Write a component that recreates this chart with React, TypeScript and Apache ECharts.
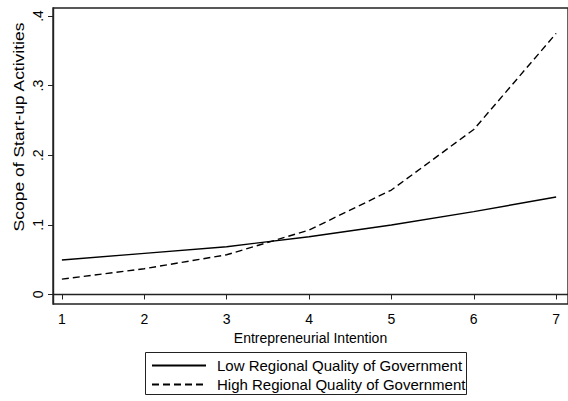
import React, { useEffect, useRef } from "react";
import * as echarts from "echarts";

const xValues = [1, 2, 3, 4, 5, 6, 7];
const lowQoG = [0.0495, 0.059, 0.0686, 0.083, 0.0997, 0.119, 0.140];
const highQoG = [0.022, 0.037, 0.057, 0.0925, 0.150, 0.237, 0.375];
const xTicks = [1, 2, 3, 4, 5, 6, 7];
const yTicks = [0, 0.1, 0.2, 0.3, 0.4];
const seriesNames = ["Low Regional Quality of Government", "High Regional Quality of Government"];
const xTitle = "Entrepreneurial Intention";
const yTitle = "Scope of Start-up Activities";

export default function App() {
  const ref = useRef<HTMLDivElement>(null);
  useEffect(() => {
    if (!ref.current) return;
    const chart = echarts.init(ref.current, null, { renderer: "svg" });
    const font = "Liberation Sans, Arial, sans-serif";
    const axisColor = "#222";
    chart.setOption({
      animation: false,
      backgroundColor: "#fff",
      textStyle: { fontFamily: font },
      grid: {
        left: 53,
        top: 8,
        right: -4,
        bottom: 97,
        show: true,
        borderColor: axisColor,
        borderWidth: 1.4,
      },
      xAxis: {
        type: "value",
        min: 0.892,
        max: 7.144,
        splitLine: { show: false },
        axisLine: { show: true, lineStyle: { color: axisColor, width: 1.4 } },
        axisTick: { show: true, length: 5, lineStyle: { color: axisColor }, customValues: xTicks },
        axisLabel: {
          customValues: xTicks,
          color: "#000",
          fontSize: 14,
          fontFamily: font,
          margin: 8,
          formatter: (v: number) => String(v),
        },
        name: xTitle,
        nameLocation: "middle",
        nameGap: 20,
        nameTextStyle: { color: "#000", fontSize: 14, fontFamily: font },
      },
      yAxis: {
        type: "value",
        min: -0.0137,
        max: 0.4115,
        splitLine: { show: false },
        axisLine: { show: true, lineStyle: { color: axisColor, width: 1.4 } },
        axisTick: { show: true, length: 5, lineStyle: { color: axisColor }, customValues: yTicks },
        axisLabel: {
          customValues: yTicks,
          rotate: 90,
          color: "#000",
          fontSize: 14,
          fontFamily: font,
          margin: 8,
          formatter: (v: number) => (v === 0 ? "0" : String(Math.round(v * 10) / 10).replace(/^0\./, ".")),
        },
      },
      legend: {
        orient: "vertical",
        left: 151,
        top: 358,
        itemWidth: 54,
        itemHeight: 14,
        itemGap: 4,
        padding: 0,
        itemStyle: { opacity: 0 },
        textStyle: { color: "#000", fontSize: 15, lineHeight: 14, fontFamily: font, padding: [0, 0, 0, 6] },
        data: seriesNames,
      },
      graphic: [
        {
          type: "rect",
          shape: { x: 145.5, y: 352.5, width: 321, height: 42 },
          style: { fill: "none", stroke: "#222", lineWidth: 1 },
          silent: true,
        },
        {
          type: "text",
          x: 19,
          y: 127,
          rotation: Math.PI / 2,
          scaleX: 1.25,
          style: {
            text: yTitle,
            fill: "#000",
            fontSize: 14,
            fontFamily: font,
            align: "center",
            verticalAlign: "middle",
          },
        },
      ],
      series: [
        {
          name: seriesNames[0],
          type: "line",
          data: xValues.map((x, i) => [x, lowQoG[i]]),
          symbol: "none",
          lineStyle: { color: "#000", width: 1.4, type: "solid" },
          itemStyle: { color: "#000" },
        },
        {
          name: seriesNames[1],
          type: "line",
          data: xValues.map((x, i) => [x, highQoG[i]]),
          symbol: "none",
          lineStyle: { color: "#000", width: 1.4, type: [7, 4] },
          itemStyle: { color: "#000" },
        },
      ],
    });
    return () => chart.dispose();
  }, []);
  return <div ref={ref} style={{ position: "absolute", left: 0, top: 0, width: 568, height: 401 }} />;
}
